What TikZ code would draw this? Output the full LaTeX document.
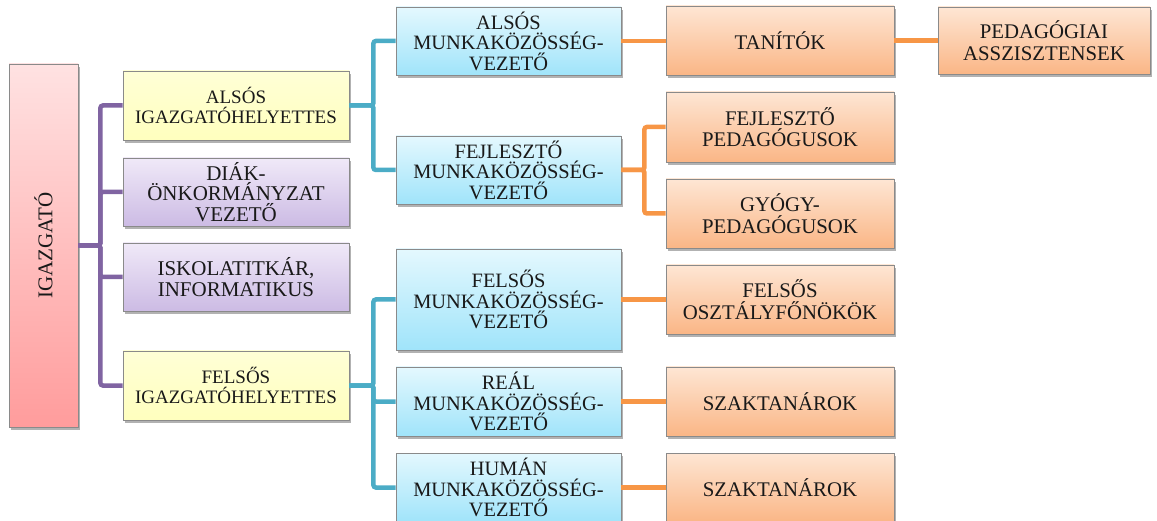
\documentclass[tikz,border=0pt]{standalone}
\usepackage{fontspec}
\setmainfont{Liberation Serif}
\usetikzlibrary{shadows}
\definecolor{purp}{HTML}{8064A2}
\definecolor{blu}{HTML}{4BACC6}
\definecolor{ora}{HTML}{F79646}
\definecolor{bord}{HTML}{8A8A8A}
\tikzset{
  base/.style={draw=bord, line width=0.8pt, align=center, inner sep=0pt, text=black!90,
    drop shadow={shadow xshift=1.5pt, shadow yshift=-3pt, opacity=0.3, fill=black}},
  pinkbox/.style={base, top color={rgb,255:red,255;green,226;blue,226}, bottom color={rgb,255:red,255;green,156;blue,156},
    font=\fontsize{21}{23}\selectfont},
  yelbox/.style={base, top color={rgb,255:red,255;green,255;blue,214}, bottom color={rgb,255:red,255;green,255;blue,190},
    font=\fontsize{19}{20}\selectfont},
  purbox/.style={base, top color={rgb,255:red,240;green,233;blue,248}, bottom color={rgb,255:red,204;green,187;blue,228},
    font=\fontsize{21}{20.5}\selectfont},
  blubox/.style={base, top color={rgb,255:red,228;green,248;blue,254}, bottom color={rgb,255:red,160;green,228;blue,250},
    font=\fontsize{20.4}{20.5}\selectfont},
  orabox/.style={base, top color={rgb,255:red,254;green,230;blue,212}, bottom color={rgb,255:red,250;green,182;blue,134},
    font=\fontsize{20.8}{21.5}\selectfont},
  conn/.style={line width=4.5pt, rounded corners=2.5pt},
  pl/.style={conn, draw=purp},
  bl/.style={conn, draw=blu},
  ol/.style={conn, draw=ora},
}
\begin{document}
\begin{tikzpicture}[x=1pt, y=-1pt]
\useasboundingbox (0,0) rectangle (1157,521);
% level 0
\node[pinkbox, minimum width=69, minimum height=363] (ig) at (43.5,245.5) {\rotatebox{90}{IGAZGATÓ}};
% level 1
\node[yelbox, minimum width=226, minimum height=69] (y1) at (236,105.5) {ALSÓS\\IGAZGATÓHELYETTES};
\node[purbox, minimum width=226, minimum height=68] (p1) at (236,192) {DIÁK-\\ÖNKORMÁNYZAT\\VEZETŐ};
\node[purbox, minimum width=226, minimum height=68] (p2) at (236,277) {ISKOLATITKÁR,\\INFORMATIKUS};
\node[yelbox, minimum width=226, minimum height=69] (y2) at (236,385.5) {FELSŐS\\IGAZGATÓHELYETTES};
% level 2
\node[blubox, minimum width=225, minimum height=68] (b1) at (508.5,41) {ALSÓS\\MUNKAKÖZÖSSÉG-\\VEZETŐ};
\node[blubox, minimum width=225, minimum height=68] (b2) at (508.5,170) {FEJLESZTŐ\\MUNKAKÖZÖSSÉG-\\VEZETŐ};
\node[blubox, minimum width=225, minimum height=101] (b3) at (508.5,299.5) {FELSŐS\\MUNKAKÖZÖSSÉG-\\VEZETŐ};
\node[blubox, minimum width=225, minimum height=69] (b4) at (508.5,401.5) {REÁL\\MUNKAKÖZÖSSÉG-\\VEZETŐ};
\node[blubox, minimum width=225, minimum height=69] (b5) at (508.5,487.5) {HUMÁN\\MUNKAKÖZÖSSÉG-\\VEZETŐ};
% level 3
\node[orabox, minimum width=228, minimum height=69] (o1) at (780,40.5) {TANÍTÓK};
\node[orabox, minimum width=212, minimum height=67] (o2) at (1044,40.5) {PEDAGÓGIAI\\ASSZISZTENSEK};
\node[orabox, minimum width=228, minimum height=70] (o3) at (780,127) {FEJLESZTŐ\\PEDAGÓGUSOK};
\node[orabox, minimum width=228, minimum height=69] (o4) at (780,213.5) {GYÓGY-\\PEDAGÓGUSOK};
\node[orabox, minimum width=228, minimum height=69] (o5) at (780,299.5) {FELSŐS\\OSZTÁLYFŐNÖKÖK};
\node[orabox, minimum width=228, minimum height=69] (o6) at (780,401.5) {SZAKTANÁROK};
\node[orabox, minimum width=228, minimum height=69] (o7) at (780,487.5) {SZAKTANÁROK};
% purple connectors
\draw[pl] (ig.east) -- ++(22,0) |- (y1.west);
\draw[pl] (ig.east) -- ++(22,0) |- (p1.west);
\draw[pl] (ig.east) -- ++(22,0) |- (p2.west);
\draw[pl] (ig.east) -- ++(22,0) |- (y2.west);
% blue connectors
\draw[bl] (y1.east) -- ++(24,0) |- (b1.west);
\draw[bl] (y1.east) -- ++(24,0) |- (b2.west);
\draw[bl] (y2.east) -- ++(24,0) |- (b3.west);
\draw[bl] (y2.east) -- ++(24,0) |- (b4.west);
\draw[bl] (y2.east) -- ++(24,0) |- (b5.west);
% orange connectors
\draw[ol] (b1.east) -- (b1.east -| o1.west);
\draw[ol] (o1.east) -- (o2.west);
\draw[ol] (b2.east) -- ++(23,0) |- (o3.west);
\draw[ol] (b2.east) -- ++(23,0) |- (o4.west);
\draw[ol] (b3.east) -- (o5.west);
\draw[ol] (b4.east) -- (o6.west);
\draw[ol] (b5.east) -- (o7.west);
\end{tikzpicture}
\end{document}
